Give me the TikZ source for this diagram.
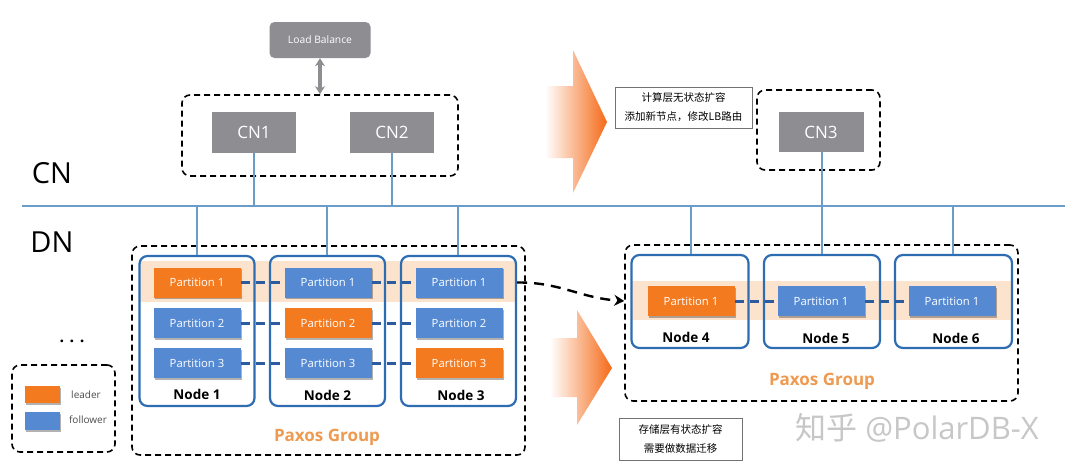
\documentclass[tikz,border=0pt]{standalone}
\usepackage{fontspec}
\setmainfont{Open Sans}
\newfontfamily\cjk{Noto Sans CJK SC}
\usetikzlibrary{arrows.meta,shadows}
\definecolor{cngray}{HTML}{8D8D92}
\definecolor{porange}{HTML}{F47A1F}
\definecolor{pblue}{HTML}{558AD3}
\definecolor{nblue}{HTML}{2F6DB3}
\definecolor{dblue}{HTML}{2D5C9E}
\definecolor{busblue}{HTML}{6B9CC8}
\definecolor{band}{HTML}{FCE3CD}
\definecolor{paxos}{HTML}{EE9A50}
\definecolor{arrorange}{HTML}{F46A18}
\tikzset{
  gbox/.style={fill=cngray, text=white, inner sep=0pt},
  pbox/.style={minimum width=87pt, minimum height=30pt, inner sep=0pt, text=white,
     font=\fontsize{11.3}{13}\selectfont,
     drop shadow={shadow xshift=1pt, shadow yshift=-1.5pt, opacity=0.3, fill=black}},
  lead/.style={pbox, fill=porange},
  foll/.style={pbox, fill=pblue},
  nodebox/.style={draw=nblue, line width=2.2pt, rounded corners=8pt, inner sep=0pt},
  grp/.style={draw=black, line width=1.6pt, dash pattern=on 6pt off 4pt, rounded corners=8pt, inner sep=0pt},
  pdash/.style={draw=dblue, line width=3pt, dash pattern=on 9pt off 6pt},
  nlabel/.style={font=\bfseries\fontsize{13.5}{15}\selectfont},
  paxlabel/.style={text=paxos, font=\bfseries\fontsize{17}{19}\selectfont},
  bus/.style={draw=busblue, line width=1.4pt},
  note/.style={draw=black!55, line width=0.6pt, inner sep=0pt, align=center,
     font=\cjk\fontsize{10.5}{19}\selectfont},
}
\begin{document}
\begin{tikzpicture}[x=1pt,y=-1pt]
\useasboundingbox[fill=white] (0,0) rectangle (1080,472);

% orange gradient arrows
\shade[left color=white, right color=arrorange]
  (545,86) -- (573,86) -- (573,50) -- (607,122) -- (573,193) -- (573,158) -- (545,158) -- cycle;
\shade[left color=white, right color=arrorange]
  (550,338) -- (577,338) -- (577,310) -- (612,368) -- (577,425) -- (577,397) -- (550,397) -- cycle;

% Load balance and CN group
\node[gbox, minimum width=101pt, minimum height=36pt, rounded corners=5pt,
      font=\fontsize{10.3}{12}\selectfont] (lb) at (320,40) {Load Balance};
\node[grp, minimum width=276pt, minimum height=81pt] (cng) at (320,135.5) {};
\node[gbox, minimum width=84pt, minimum height=41pt, font=\fontsize{17}{19}\selectfont] (cn1) at (254,132.5) {CN1};
\node[gbox, minimum width=84pt, minimum height=41pt, font=\fontsize{17}{19}\selectfont] (cn2) at (392,132.5) {CN2};
\draw[draw=cngray, line width=3.5pt, {Stealth[length=8pt,width=10pt]}-{Stealth[length=8pt,width=10pt]}]
  (lb.south) -- (cng.north);

% CN3
\node[grp, minimum width=123pt, minimum height=80pt] (cn3g) at (818.5,130) {};
\node[gbox, minimum width=85pt, minimum height=40pt, font=\fontsize{17}{19}\selectfont] (cn3) at (821,132) {CN3};

% notes
\node[note, minimum width=137pt, minimum height=41pt] (note1) at (683.5,107.5) {计算层无状态扩容\\添加新节点，修改LB路由};
\node[note, minimum width=123pt, minimum height=42pt] (note2) at (680.5,439) {存储层有状态扩容\\需要做数据迁移};

% layer labels
\node[font=\fontsize{29}{32}\selectfont] (cnl) at (52,173) {CN};
\node[font=\fontsize{29}{32}\selectfont] (dnl) at (52,242) {DN};
\node[font=\bfseries\fontsize{16}{18}\selectfont] (dots) at (72,341) {. . .};

% bus
\coordinate (busL) at (22,206);
\coordinate (busR) at (1065,206);
\draw[bus] (busL) -- (busR);

% left group
\fill[band] (140,261) rectangle (515,302);
\node[grp, minimum width=393pt, minimum height=209pt] (lg) at (328.5,350.5) {};
\node[nodebox, minimum width=115pt, minimum height=150pt] (n1) at (197,331) {};
\node[nodebox, minimum width=115pt, minimum height=150pt] (n2) at (327.5,331) {};
\node[nodebox, minimum width=115pt, minimum height=150pt] (n3) at (458.5,331) {};

\node[lead] (p11) at (197,282.5) {Partition 1};
\node[foll] (p21) at (328,282.5) {Partition 1};
\node[foll] (p31) at (459,282.5) {Partition 1};
\node[foll] (p12) at (197,323) {Partition 2};
\node[lead] (p22) at (328,323) {Partition 2};
\node[foll] (p32) at (459,323) {Partition 2};
\node[foll] (p13) at (197,363) {Partition 3};
\node[foll] (p23) at (328,363) {Partition 3};
\node[lead] (p33) at (459,363) {Partition 3};

\foreach \r in {1,2,3}{
  \draw[pdash] (p1\r.east) -- (p2\r.west);
  \draw[pdash] (p2\r.east) -- (p3\r.west);
}

\node[nlabel] (l1) at (197,394) {Node 1};
\node[nlabel] (l2) at (327.5,395) {Node 2};
\node[nlabel] (l3) at (461,395) {Node 3};
\node[paxlabel] (px1) at (327,437) {Paxos Group};

% right group
\fill[band] (631,281) rectangle (1012,320);
\node[grp, minimum width=393pt, minimum height=156pt] (rg) at (821.5,323) {};
\node[nodebox, minimum width=117pt, minimum height=93pt] (n4) at (690,301.5) {};
\node[nodebox, minimum width=116pt, minimum height=93pt] (n5) at (822,301.5) {};
\node[nodebox, minimum width=117pt, minimum height=93pt] (n6) at (953.5,301.5) {};
\node[lead] (p4) at (691,301) {Partition 1};
\node[foll] (p5) at (821,301) {Partition 1};
\node[foll] (p6) at (952,301) {Partition 1};
\draw[pdash] (p4.east) -- (p5.west);
\draw[pdash] (p5.east) -- (p6.west);
\node[nlabel] (l4) at (686,337) {Node 4};
\node[nlabel] (l5) at (826,338) {Node 5};
\node[nlabel] (l6) at (956,338) {Node 6};
\node[paxlabel] (px2) at (822,381) {Paxos Group};

% connectors to bus
\draw[bus] (cn1.south) -- (cn1.south |- busL);
\draw[bus] (cn2.south) -- (cn2.south |- busL);
\draw[bus] (n5.north) -- (n5.north |- cn3.south);
\foreach \n/\x in {n1/197,n2/327,n3/458,n4/691,n6/953}{
  \draw[bus] (\x,206) -- (\n.north -| {\x,0});
}

% migration arrow
\coordinate (mstart) at (n3.east |- p31);
\coordinate (mend) at (rg.west |- p4);
\draw[line width=2.4pt, dash pattern=on 10pt off 7pt, -{Stealth[length=10pt,width=11pt]}]
  (mstart) .. controls (560,282) and (580,298) .. (mend);

% legend
\node[grp, minimum width=103pt, minimum height=87pt] (leg) at (63.5,408.5) {};
\node[fill=porange, minimum width=35pt, minimum height=17pt, inner sep=0pt,
      drop shadow={shadow xshift=1pt, shadow yshift=-1.5pt, opacity=0.3, fill=black}] (sl) at (42.5,394.5) {};
\node[fill=pblue, minimum width=35pt, minimum height=18pt, inner sep=0pt,
      drop shadow={shadow xshift=1pt, shadow yshift=-1.5pt, opacity=0.3, fill=black}] (sf) at (42.5,421) {};
\node[text=black!70, font=\fontsize{10}{12}\selectfont] (tl) at (86,395) {leader};
\node[text=black!70, font=\fontsize{10}{12}\selectfont] (tf) at (88,420) {follower};

% watermark
\node[text=black!22, font=\fontsize{31}{34}\selectfont] (wm) at (917,428) {{\cjk 知乎} @PolarDB-X};
\end{tikzpicture}
\end{document}
